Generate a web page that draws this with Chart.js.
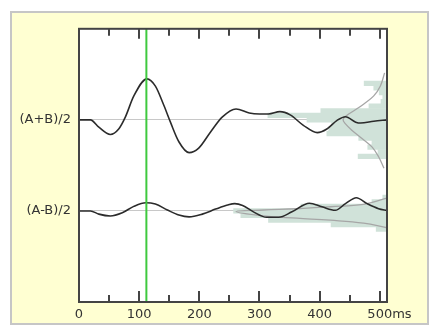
<!DOCTYPE html>
<html>
<head>
<meta charset="utf-8">
<script src="https://cdn.jsdelivr.net/npm/chart.js@4.4.1/dist/chart.umd.min.js"></script>
<style>
  html, body { margin: 0; padding: 0; background: #fff; }
  #panel {
    position: absolute; left: 10px; top: 11px;
    width: 419px; height: 314px; box-sizing: border-box;
    border: 2px solid #c6c6c6; background: #ffffd2;
  }
  #panel canvas { display: block; }
</style>
</head>
<body>
<div id="panel"><canvas id="chart" width="415" height="310"></canvas></div>
<script>
'use strict';

// time axis (ms)
const xMajorTicks = [0, 100, 200, 300, 400, 500];
const xMinorTicks = [50, 150, 250, 350, 450];
const timeUnit = 'ms';
const timeMax = 512;
const cursorMs = 112;

// the two rows and their baseline on the y axis
const rowNames = ['(A+B)/2', '(A-B)/2'];
const rowOffsets = [5, -5];
const yMin = -15, yMax = 15;

// (A+B)/2 trace, relative to its baseline
const plusTimes = [0, 19, 33, 52, 66, 77, 91, 113, 127, 141, 152, 166, 183, 199, 219, 238, 261, 283, 300, 315, 334, 351, 373, 396, 412, 429, 443, 460, 468, 490, 512];
const plusWave  = [0, 0, -0.8, -1.6, -1.0, 0.3, 2.6, 4.5, 3.7, 1.6, -0.25, -2.4, -3.6, -3.1, -1.3, 0.3, 1.2, 0.75, 0.65, 0.65, 0.9, 0.55, -0.6, -1.4, -1.0, -0.05, 0.35, -0.25, -0.35, -0.15, 0];

// (A-B)/2 trace
const minusTimes = [0, 19, 33, 52, 72, 91, 111, 127, 147, 166, 183, 205, 227, 247, 259, 272, 290, 312, 332, 354, 383, 404, 426, 443, 461, 479, 498, 512];
const minusWave  = [0, 0, -0.35, -0.55, -0.2, 0.5, 0.9, 0.75, 0.1, -0.45, -0.65, -0.35, 0.2, 0.65, 0.8, 0.6, -0.1, -0.7, -0.7, -0.1, 0.85, 0.45, 0.07, 0.8, 1.45, 0.8, 0.25, 0.05];

// sideways histograms: bin centre (relative to baseline), bar length in ms
const plusBins = [4, 3.5, 3, 2.5, 2, 1.5, 1, 0.5, 0, -0.5, -1, -1.5, -2, -2.5, -3, -3.5, -4];
const plusHist = [38, 22, 13, 7, 10, 30, 110, 198, 133, 92, 97, 100, 47, 25, 32, 15, 48];
const minusBins = [1.5, 1, 0.5, 0, -0.5, -1, -1.5, -2];
const minusHist = [7, 25, 143, 255, 243, 197, 93, 18];

// fitted curves over the histograms
const plusFitMs = [508, 501, 490, 473, 457, 445, 439, 443, 454, 471, 487, 498, 507];
const plusFitY  = [5.16, 3.72, 2.63, 1.72, 1.0, 0.47, 0.03, -0.44, -1.16, -2.07, -2.97, -4.05, -5.32];
const minusFitMs = [512, 473, 418, 362, 307, 261, 307, 362, 418, 473, 512];
const minusFitY  = [1.4, 0.72, 0.46, 0.24, 0.1, -0.06, -0.55, -0.8, -1.02, -1.34, -1.85];

const font = { family: 'DejaVu Sans', size: 13 };
const textColor = '#333';
const tealFill = '#d0e2d9';

function wavePoints(times, vals, off) {
  return times.map((t, i) => ({ x: t, y: off + vals[i] }));
}
function histBars(bins, lens, off) {
  return bins.map((b, i) => ({ x: [timeMax - lens[i], timeMax], y: off + b }));
}

// white plot area, box, inward ticks and the unit label
const framePlugin = {
  id: 'frame',
  beforeDraw(chart) {
    const a = chart.chartArea, ctx = chart.ctx;
    ctx.save();
    ctx.fillStyle = '#fff';
    ctx.fillRect(a.left, a.top, a.right - a.left, a.bottom - a.top);
    ctx.restore();
  },
  afterDraw(chart) {
    const a = chart.chartArea, ctx = chart.ctx, xs = chart.scales.x;
    ctx.save();
    ctx.strokeStyle = '#444';
    ctx.lineWidth = 2;
    ctx.strokeRect(a.left, a.top, a.right - a.left, a.bottom - a.top);
    ctx.beginPath();
    xs.ticks.forEach(t => {
      const px = Math.round(xs.getPixelForValue(t.value));
      const major = xMajorTicks.includes(t.value);
      ctx.moveTo(px, a.bottom);
      ctx.lineTo(px, a.bottom - (major ? 11 : 7));
      ctx.moveTo(px, a.top);
      ctx.lineTo(px, a.top + (major ? 10 : 7));
    });
    ctx.stroke();
    // unit right after the last label
    const last = xMajorTicks[xMajorTicks.length - 1];
    ctx.font = font.size + 'px "' + font.family + '"';
    const w = ctx.measureText(String(last)).width;
    ctx.fillStyle = textColor;
    ctx.textAlign = 'left';
    ctx.textBaseline = 'middle';
    ctx.fillText(timeUnit, xs.getPixelForValue(last) + w / 2, xs.top + 5 + font.size * 1.2 / 2);
    ctx.restore();
  }
};

let ctx = document.getElementById('chart');

new Chart(ctx, {
  type: 'line',
  data: {
    datasets: [
      {
        data: [{ x: cursorMs, y: yMin }, { x: cursorMs, y: yMax }],
        borderColor: '#3fc93f', borderWidth: 2,
      },
      {
        data: wavePoints(plusTimes, plusWave, rowOffsets[0]),
        borderColor: '#2b2b2b', borderWidth: 1.6, cubicInterpolationMode: 'monotone',
      },
      {
        data: wavePoints(minusTimes, minusWave, rowOffsets[1]),
        borderColor: '#2b2b2b', borderWidth: 1.6, cubicInterpolationMode: 'monotone',
      },
      {
        data: wavePoints(plusFitMs, plusFitY, rowOffsets[0]),
        borderColor: '#a6a6a6', borderWidth: 1.3, tension: 0.4,
      },
      {
        data: wavePoints(minusFitMs, minusFitY, rowOffsets[1]),
        borderColor: '#a6a6a6', borderWidth: 1.3, tension: 0.4,
      },
      {
        type: 'bar', indexAxis: 'y', grouped: false,
        data: histBars(plusBins, plusHist, rowOffsets[0]),
        backgroundColor: tealFill, borderWidth: 0, barPercentage: 1, categoryPercentage: 1,
      },
      {
        type: 'bar', indexAxis: 'y', grouped: false,
        data: histBars(minusBins, minusHist, rowOffsets[1]),
        backgroundColor: tealFill, borderWidth: 0, barPercentage: 1, categoryPercentage: 1,
      },
    ]
  },
  options: {
    responsive: false,
    animation: false,
    events: [],
    layout: { padding: { top: 12, right: 40, left: 0, bottom: 0 } },
    elements: { point: { radius: 0 } },
    plugins: { legend: { display: false }, tooltip: { enabled: false } },
    scales: {
      x: {
        type: 'linear', min: 0, max: timeMax, offset: false,
        afterBuildTicks: s => {
          s.ticks = xMajorTicks.concat(xMinorTicks).sort((a, b) => a - b).map(v => ({ value: v }));
        },
        afterFit: s => { s.height = 21; },
        ticks: {
          autoSkip: false, maxRotation: 0, padding: 5, color: textColor, font: font,
          callback: v => xMajorTicks.includes(v) ? String(v) : '',
        },
        grid: { display: false, drawTicks: false, offset: false },
        border: { display: false },
      },
      y: {
        type: 'linear', min: yMin, max: yMax, offset: false,
        afterBuildTicks: s => {
          s.ticks = rowOffsets.slice().sort((a, b) => a - b).map(v => ({ value: v }));
        },
        afterFit: s => { s.width = 67; },
        ticks: {
          padding: 8, color: textColor, font: font,
          callback: v => rowNames[rowOffsets.indexOf(v)],
        },
        grid: { color: '#c8c8c8', lineWidth: 1, drawTicks: false, offset: false },
        border: { display: false },
      }
    }
  },
  plugins: [framePlugin]
});
</script>
</body>
</html>
